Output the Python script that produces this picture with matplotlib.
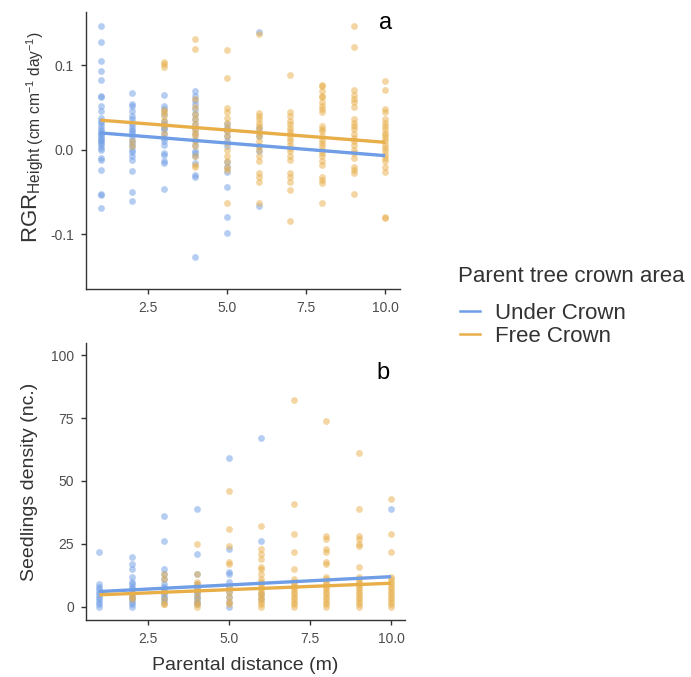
import matplotlib
matplotlib.use("Agg")
import matplotlib.pyplot as plt
from matplotlib.lines import Line2D

plt.rcParams['font.family'] = ['Liberation Sans', 'DejaVu Sans']
plt.rcParams['mathtext.fontset'] = 'custom'
plt.rcParams['mathtext.rm'] = 'Liberation Sans'
plt.rcParams['mathtext.it'] = 'Liberation Sans:italic'

# ---------------- data ----------------
distances = [1, 2, 3, 4, 5, 6, 7, 8, 9, 10]
group_labels = ["Under Crown", "Free Crown"]
legend_title = "Parent tree crown area"

rgr_under = [
    [0.147, 0.128, 0.105, 0.093, 0.083, 0.064, 0.062, 0.052, 0.046, 0.038, 0.034, 0.031, 0.028, 0.024, 0.022,
     0.020, 0.018, 0.016, 0.014, 0.012, 0.010, 0.008, 0.005, 0.002, -0.001, -0.010, -0.012, -0.024, -0.052,
     -0.054, -0.069],
    [0.067, 0.054, 0.052, 0.046, 0.040, 0.036, 0.032, 0.028, 0.025, 0.022, 0.020, 0.016, 0.012, 0.008, 0.004,
     0.000, -0.003, -0.008, -0.012, -0.025, -0.050, -0.061],
    [0.065, 0.052, 0.048, 0.042, 0.034, 0.030, 0.026, 0.024, 0.018, 0.014, 0.010, 0.006, -0.004, -0.006,
     -0.014, -0.016, -0.047],
    [0.070, 0.064, 0.059, 0.054, 0.048, 0.042, 0.036, 0.030, 0.024, 0.018, 0.012, 0.006, -0.002, -0.004,
     -0.008, -0.016, -0.030, -0.032, -0.127],
    [0.030, 0.026, 0.022, 0.016, 0.010, 0.004, -0.015, -0.020, -0.027, -0.044, -0.080, -0.099],
    [0.139, 0.026, 0.016, 0.004, -0.002, -0.067],
    [], [], [], [],
]
rgr_free = [
    [],
    [0.010, 0.004],
    [0.104, 0.101, 0.098, 0.047, 0.044, 0.040, 0.034, 0.028, 0.020],
    [0.131, 0.119, 0.060, 0.050, 0.042, 0.036, 0.030, 0.025, 0.020, 0.016, 0.010, 0.004, -0.008, -0.018, -0.020],
    [0.118, 0.085, 0.049, 0.044, 0.038, 0.032, 0.026, 0.022, 0.016, 0.008, 0.000, -0.008, -0.014, -0.020,
     -0.024, -0.063],
    [0.137, 0.043, 0.040, 0.036, 0.032, 0.028, 0.024, 0.020, 0.016, 0.010, 0.004, 0.000, -0.008, -0.014,
     -0.028, -0.032, -0.038, -0.063],
    [0.088, 0.044, 0.040, 0.034, 0.030, 0.026, 0.022, 0.018, 0.014, 0.010, 0.006, 0.002, -0.002, -0.008,
     -0.012, -0.028, -0.032, -0.038, -0.048, -0.085],
    [0.077, 0.075, 0.069, 0.064, 0.062, 0.056, 0.052, 0.048, 0.044, 0.028, 0.025, 0.022, 0.016, 0.012, 0.008,
     0.004, 0.000, -0.004, -0.008, -0.014, -0.018, -0.032, -0.036, -0.040, -0.063],
    [0.146, 0.122, 0.071, 0.065, 0.060, 0.056, 0.051, 0.036, 0.032, 0.028, 0.024, 0.018, 0.014, 0.010, 0.006,
     0.000, -0.004, -0.010, -0.020, -0.024, -0.028, -0.052],
    [0.081, 0.071, 0.048, 0.044, 0.036, 0.032, 0.028, 0.024, 0.020, 0.017, 0.014, 0.010, 0.006, 0.002, -0.002,
     -0.006, -0.010, -0.014, -0.020, -0.026, -0.080, -0.081],
]

dens_under = [
    [22, 9, 8, 7, 6, 5, 4, 3, 2, 1, 0],
    [20, 17, 15, 12, 10, 9, 8, 7, 6, 5, 4, 3, 2, 1, 0],
    [36, 26, 15, 13, 11, 9, 8, 7, 6, 5, 4, 3, 2],
    [39, 21, 13, 9, 8, 7, 6, 5, 4, 3, 2, 1],
    [59, 23, 14, 13, 10, 8, 6, 4, 2, 0],
    [67, 26, 5, 3],
    [], [], [],
    [39],
]
dens_free = [
    [],
    [5, 4, 3],
    [13, 11, 6, 3, 1, 1],
    [25, 13, 10, 9, 8, 6, 4, 2, 1, 0],
    [46, 31, 24, 18, 17, 8, 6, 4, 2, 1],
    [32, 23, 21, 19, 16, 15, 13, 11, 10, 9, 8, 7, 6, 5, 4, 3, 2, 1, 0],
    [82, 41, 29, 22, 15, 11, 10, 9, 8, 7, 6, 5, 4, 3, 2, 1, 0],
    [74, 28, 27, 23, 22, 18, 17, 12, 11, 10, 9, 8, 7, 6, 5, 4, 3, 2, 1, 0],
    [61, 39, 28, 27, 25, 24, 16, 12, 11, 10, 9, 8, 7, 6, 5, 4, 3, 2, 1, 0],
    [43, 29, 22, 12, 11, 10, 9, 8, 7, 6, 5, 4, 3, 2, 1, 0],
]

# fitted linear trends (endpoints)
fit_x = [1, 10]
rgr_fit_under = [0.0198, -0.0071]
rgr_fit_free = [0.0349, 0.0087]
dens_fit_under = [6.1, 12.0]
dens_fit_free = [4.8, 9.4]

x_ticks = [2.5, 5.0, 7.5, 10.0]
x_ticklabels = ["2.5", "5.0", "7.5", "10.0"]
rgr_ticks = [-0.1, 0.0, 0.1]
rgr_ticklabels = ["-0.1", "0.0", "0.1"]
dens_ticks = [0, 25, 50, 75, 100]
dens_ticklabels = ["0", "25", "50", "75", "100"]

# ---------------- style ----------------
c_under = "#6F9DE6"
c_free = "#E8AE48"
pt_alpha = 0.5
pt_size = 24
lw = 2.4
axis_col = "#333333"
tick_col = "#4D4D4D"
text_col = "#333333"

fig = plt.figure(figsize=(6.91, 6.77), dpi=100)
W, H = 691, 677
ax_a = fig.add_axes([86 / W, 1 - 289 / H, (400 - 86) / W, (289 - 12) / H])
ax_b = fig.add_axes([86 / W, 1 - 620 / H, (405 - 86) / W, (620 - 343) / H])


def scatter_groups(ax, under, free):
    for d, vals in zip(distances, under):
        if vals:
            ax.scatter([d] * len(vals), vals, s=pt_size, color=c_under, alpha=pt_alpha,
                       linewidths=0, zorder=2)
    for d, vals in zip(distances, free):
        if vals:
            ax.scatter([d] * len(vals), vals, s=pt_size, color=c_free, alpha=pt_alpha,
                       linewidths=0, zorder=2)


def style(ax):
    for s in ["top", "right"]:
        ax.spines[s].set_visible(False)
    for s in ["left", "bottom"]:
        ax.spines[s].set_color(axis_col)
        ax.spines[s].set_linewidth(1.0)
    ax.tick_params(axis="both", colors=axis_col, labelcolor=tick_col, labelsize=10, length=3.8,
                   width=1.0, pad=5)
    ax.set_xticks(x_ticks)
    ax.set_xticklabels(x_ticklabels)


# panel a
scatter_groups(ax_a, rgr_under, rgr_free)
ax_a.plot(fit_x, rgr_fit_under, color=c_under, lw=lw, zorder=3, solid_capstyle="butt")
ax_a.plot(fit_x, rgr_fit_free, color=c_free, lw=lw, zorder=3, solid_capstyle="butt")
ax_a.set_xlim(0.54, 10.47)
ax_a.set_ylim(-0.165, 0.163)
style(ax_a)
ax_a.set_yticks(rgr_ticks)
ax_a.set_yticklabels(rgr_ticklabels)
ax_a.set_ylabel(r"$\mathrm{RGR}_{\mathrm{Height\ (cm\ cm^{-1}\ day^{-1})}}$", fontsize=16, color=text_col,
                labelpad=3)
ax_a.yaxis.label.set_y(0.55)
ax_a.text(0.955, 1.0, "a", transform=ax_a.transAxes, fontsize=17, ha="center", va="top")

# panel b
scatter_groups(ax_b, dens_under, dens_free)
ax_b.plot(fit_x, dens_fit_under, color=c_under, lw=lw, zorder=3, solid_capstyle="butt")
ax_b.plot(fit_x, dens_fit_free, color=c_free, lw=lw, zorder=3, solid_capstyle="butt")
ax_b.set_xlim(0.59, 10.43)
ax_b.set_ylim(-5.2, 104.8)
style(ax_b)
ax_b.set_yticks(dens_ticks)
ax_b.set_yticklabels(dens_ticklabels)
ax_b.set_ylabel("Seedlings density (nc.)", fontsize=14, color=text_col, labelpad=9)
ax_b.set_xlabel("Parental distance (m)", fontsize=14, color=text_col, labelpad=8)
ax_b.text(0.93, 0.93, "b", transform=ax_b.transAxes, fontsize=17, ha="center", va="top")

# legend
fig.text(458 / W, 1 - 277 / H, legend_title, fontsize=16, color=text_col, ha="left", va="center")
handles = [Line2D([0], [0], color=c_under, lw=1.8), Line2D([0], [0], color=c_free, lw=1.8)]
leg = fig.legend(handles, group_labels, loc="upper left",
                 bbox_to_anchor=(460 / W, 1 - 303 / H), frameon=False, fontsize=16,
                 handlelength=0.9, handletextpad=0.68, labelspacing=0.1,
                 borderaxespad=0, borderpad=0)
for t in leg.get_texts():
    t.set_color(text_col)

fig.savefig("out.png", dpi=100)
